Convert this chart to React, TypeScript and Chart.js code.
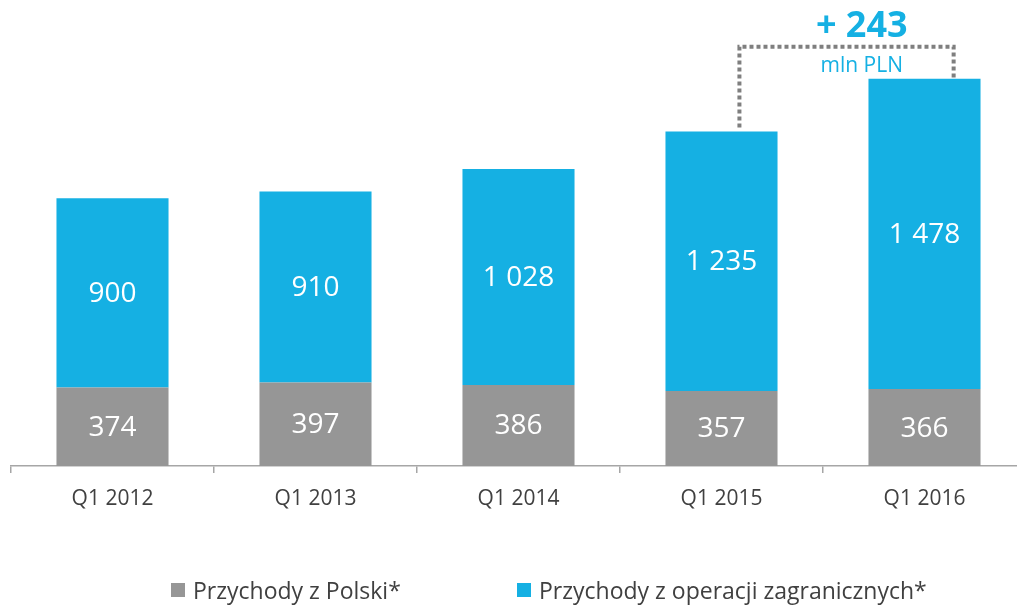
import React, { useEffect, useRef } from "react";
import { Chart, registerables } from "chart.js";

Chart.register(...registerables);

const categories = ["Q1 2012", "Q1 2013", "Q1 2014", "Q1 2015", "Q1 2016"];
const polandRevenue = [374, 397, 386, 357, 366];
const foreignRevenue = [900, 910, 1028, 1235, 1478];
const seriesNames = ["Przychody z Polski*", "Przychody z operacji zagranicznych*"];
const seriesColors = ["#969696", "#15b0e3"];
const growthUnit = "mln PLN";

const FONT = "'Open Sans', 'Noto Sans', sans-serif";

function fmt(n: number): string {
  return String(n).replace(/\B(?=(\d{3})+(?!\d))/g, " ");
}

const valueLabelsPlugin = {
  id: "valueLabels",
  afterDatasetsDraw(chart: any) {
    const ctx = chart.ctx;
    ctx.save();
    ctx.fillStyle = "#ffffff";
    ctx.font = `28px ${FONT}`;
    ctx.textAlign = "center";
    ctx.textBaseline = "middle";
    chart.data.datasets.forEach((ds: any, di: number) => {
      const meta = chart.getDatasetMeta(di);
      meta.data.forEach((bar: any, i: number) => {
        const cy = (bar.y + bar.base) / 2;
        ctx.fillText(fmt(ds.data[i]), bar.x, cy + 1);
      });
    });
    ctx.restore();
  },
};

const growthPlugin = {
  id: "growth",
  afterDraw(chart: any) {
    const ctx = chart.ctx;
    const meta = chart.getDatasetMeta(1);
    const a = meta.data[3];
    const b = meta.data[4];
    if (!a || !b) return;
    const w = b.width;
    const lx = a.x + w * 0.16;
    const rx = b.x + w * 0.26;
    const hy = b.y - 32;
    ctx.save();
    ctx.strokeStyle = "#7f7f7f";
    ctx.lineWidth = 4;
    ctx.setLineDash([4, 3]);
    ctx.beginPath();
    ctx.moveTo(lx, a.y - 4);
    ctx.lineTo(lx, hy);
    ctx.lineTo(rx, hy);
    ctx.lineTo(rx, b.y - 1);
    ctx.stroke();
    ctx.setLineDash([]);
    const diff = foreignRevenue[4] - foreignRevenue[3];
    const tx = b.x - w * 0.56;
    ctx.fillStyle = "#15b0e3";
    ctx.textAlign = "center";
    ctx.textBaseline = "alphabetic";
    ctx.font = `bold 36px ${FONT}`;
    ctx.fillText(`+ ${diff}`, tx, b.y - 42);
    ctx.font = `21px ${FONT}`;
    ctx.fillText(growthUnit, tx, b.y - 7);
    ctx.restore();
  },
};

export default function App() {
  const ref = useRef<HTMLCanvasElement | null>(null);

  useEffect(() => {
    if (!ref.current) return;
    const chart = new Chart(ref.current, {
      type: "bar",
      data: {
        labels: categories,
        datasets: [
          {
            label: seriesNames[0],
            data: polandRevenue,
            backgroundColor: seriesColors[0],
            categoryPercentage: 1,
            barPercentage: 0.552,
          },
          {
            label: seriesNames[1],
            data: foreignRevenue,
            backgroundColor: seriesColors[1],
            categoryPercentage: 1,
            barPercentage: 0.552,
          },
        ],
      },
      options: {
        animation: false,
        responsive: false,
        maintainAspectRatio: false,
        layout: { padding: { left: 11, right: 4, top: 7, bottom: 0 } },
        plugins: {
          legend: { display: false },
          tooltip: { enabled: false },
        },
        scales: {
          x: {
            stacked: true,
            offset: true,
            grid: {
              offset: true,
              drawOnChartArea: false,
              drawTicks: true,
              tickLength: 7,
              color: "#a6a6a6",
              lineWidth: 1.5,
            },
            border: { display: true, color: "#a6a6a6", width: 1.5 },
            ticks: {
              color: "#404040",
              font: { family: FONT, size: 21 },
              padding: 13,
            },
            afterFit(scale: any) {
              scale.height = 139;
            },
          },
          y: {
            stacked: true,
            display: false,
            min: 0,
            max: 2185,
          },
        },
      },
      plugins: [valueLabelsPlugin, growthPlugin],
    });
    return () => chart.destroy();
  }, []);

  const itemStyle: React.CSSProperties = {
    display: "flex",
    alignItems: "center",
    fontFamily: FONT,
    fontSize: 23,
    color: "#404040",
    whiteSpace: "nowrap",
  };
  const box = (c: string): React.CSSProperties => ({
    width: 14,
    height: 14,
    background: c,
    marginRight: 8,
    flex: "none",
  });

  return (
    <div
      style={{
        position: "fixed",
        left: 0,
        top: 0,
        width: 1017,
        height: 605,
        overflow: "hidden",
        background: "#ffffff",
      }}
    >
      <canvas ref={ref} width={1030} height={605} style={{ display: "block" }} />
      <div
        style={{
          position: "absolute",
          left: 171,
          top: 574,
          display: "flex",
        }}
      >
        <div style={{ ...itemStyle, width: 346 }}>
          <span style={box(seriesColors[0])} />
          <span>{seriesNames[0]}</span>
        </div>
        <div style={itemStyle}>
          <span style={box(seriesColors[1])} />
          <span>{seriesNames[1]}</span>
        </div>
      </div>
    </div>
  );
}
